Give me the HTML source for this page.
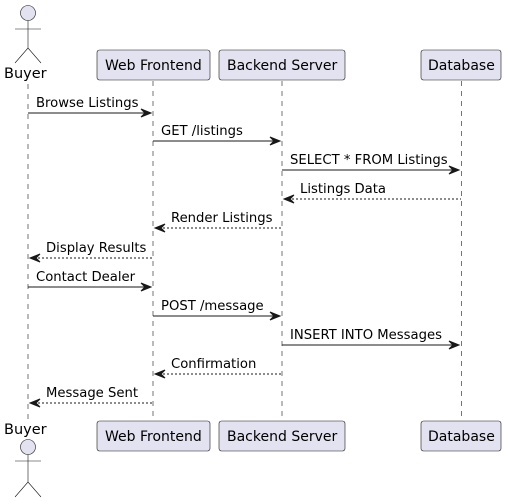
<!DOCTYPE html>
<html><head><meta charset="utf-8"><style>
html,body{margin:0;padding:0;background:#fff;width:507px;height:501px;overflow:hidden}
text{font-family:"DejaVu Sans",sans-serif;font-size:13.2px;fill:#000}
text.b{font-size:14px}
</style></head><body>
<svg width="507" height="501" xmlns="http://www.w3.org/2000/svg">
<g stroke="#181818" stroke-width="0.6" stroke-dasharray="5,5">
<line x1="28" y1="84" x2="28" y2="420"/>
<line x1="153" y1="81" x2="153" y2="420"/>
<line x1="282" y1="81" x2="282" y2="420"/>
<line x1="461.5" y1="81" x2="461.5" y2="420"/>
</g>
<g fill="#E2E2F0" stroke="#181818" stroke-width="0.6">
<circle cx="28" cy="13" r="7.5"/>
<circle cx="28" cy="447" r="7.5"/>
</g>
<g stroke="#181818" stroke-width="0.6" fill="none">
<path d="M28 20.5 V48 M15 29 H41 M15 63 L28 48 L41 63"/>
<path d="M28 454.5 V482 M15 461 H41 M15 497 L28 482 L41 497"/>
</g>
<text x="4" y="78" style="font-size:14.5px">Buyer</text>
<text x="4" y="434" style="font-size:14.5px">Buyer</text>
<g fill="#E2E2F0" stroke="#181818" stroke-width="0.6">
<rect x="97" y="50" width="113" height="30" rx="2.5"/>
<rect x="219" y="50" width="126" height="30" rx="2.5"/>
<rect x="421" y="50" width="80" height="30" rx="2.5"/>
<rect x="97" y="421" width="113" height="30" rx="2.5"/>
<rect x="219" y="421" width="126" height="30" rx="2.5"/>
<rect x="421" y="421" width="80" height="30" rx="2.5"/>
</g>
<text class="b" x="105" y="70">Web Frontend</text>
<text class="b" x="227" y="70">Backend Server</text>
<text class="b" x="428" y="70">Database</text>
<text class="b" x="105" y="441">Web Frontend</text>
<text class="b" x="227" y="441">Backend Server</text>
<text class="b" x="428" y="441">Database</text>
<g stroke="#181818" stroke-width="1" fill="none">
<line x1="28" y1="113" x2="151" y2="113"/>
<line x1="153" y1="141" x2="280" y2="141"/>
<line x1="282" y1="170" x2="459" y2="170"/>
<line x1="284" y1="199" x2="461" y2="199" stroke-dasharray="2,2"/>
<line x1="155" y1="228" x2="282" y2="228" stroke-dasharray="2,2"/>
<line x1="30" y1="258" x2="153" y2="258" stroke-dasharray="2,2"/>
<line x1="28" y1="287" x2="151" y2="287"/>
<line x1="153" y1="316" x2="280" y2="316"/>
<line x1="282" y1="345" x2="459" y2="345"/>
<line x1="155" y1="374" x2="282" y2="374" stroke-dasharray="2,2"/>
<line x1="30" y1="403" x2="153" y2="403" stroke-dasharray="2,2"/>
</g>
<g fill="#181818" stroke="#181818" stroke-width="1">
<path d="M141 109 L151 113 L141 117 L145 113 Z"/>
<path d="M270 137 L280 141 L270 145 L274 141 Z"/>
<path d="M449 166 L459 170 L449 174 L453 170 Z"/>
<path d="M294 195 L284 199 L294 203 L290 199 Z"/>
<path d="M165 224 L155 228 L165 232 L161 228 Z"/>
<path d="M40 254 L30 258 L40 262 L36 258 Z"/>
<path d="M141 283 L151 287 L141 291 L145 287 Z"/>
<path d="M270 312 L280 316 L270 320 L274 316 Z"/>
<path d="M449 341 L459 345 L449 349 L453 345 Z"/>
<path d="M165 370 L155 374 L165 378 L161 374 Z"/>
<path d="M40 399 L30 403 L40 407 L36 403 Z"/>
</g>
<text x="36" y="107">Browse Listings</text>
<text x="161" y="135">GET /listings</text>
<text x="290" y="164">SELECT * FROM Listings</text>
<text x="300" y="193">Listings Data</text>
<text x="171" y="222">Render Listings</text>
<text x="46" y="252">Display Results</text>
<text x="36" y="281">Contact Dealer</text>
<text x="161" y="310">POST /message</text>
<text x="290" y="339">INSERT INTO Messages</text>
<text x="171" y="368">Confirmation</text>
<text x="46" y="397">Message Sent</text>
</svg>
</body></html>
